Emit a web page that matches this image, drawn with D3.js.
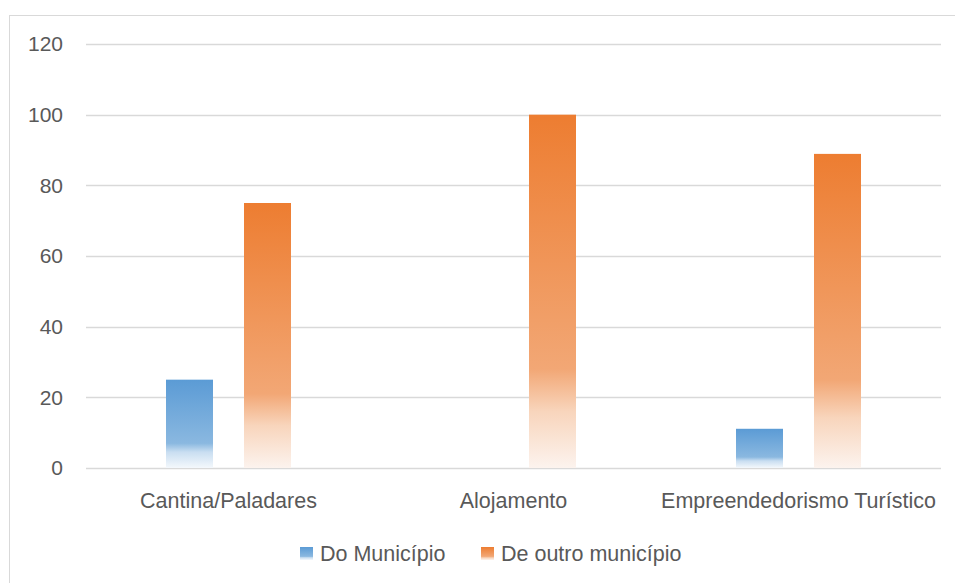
<!DOCTYPE html>
<html lang="pt">
<head>
<meta charset="UTF-8">
<title>Origem dos empreendedores</title>
<style>
  body { margin: 0; background: #fff; }
  svg text { font-family: "Liberation Sans", Arial, sans-serif; fill: #595959; }
</style>
</head>
<body>
<div id="chart"></div>
<script src="https://d3js.org/d3.v7.min.js"></script>
<script>
// data
const categories = ["Cantina/Paladares", "Alojamento", "Empreendedorismo Turístico"];
const seriesNames = ["Do Município", "De outro município"];
const doMunicipio = [25, 0, 11.1];
const deOutroMunicipio = [75, 100, 88.9];
const yTicks = [0, 20, 40, 60, 80, 100, 120];

const width = 955, height = 583;
const margin = { left: 86, right: 14, top: 44, bottom: 115 };

const svg = d3.select("#chart").append("svg")
  .attr("width", width)
  .attr("height", height);

// gradients like the Excel fill
const defs = svg.append("defs");
const gradStops = {
  blue: [[0, "#5B9BD5"], [0.72, "#8AB8E0"], [0.82, "#C9DEF1"], [1, "#F4F8FC"]],
  orange: [[0, "#ED7D31"], [0.72, "#F2A775"], [0.84, "#F8D5BC"], [1, "#FCF3EE"]]
};
Object.entries(gradStops).forEach(([name, stops]) => {
  const g = defs.append("linearGradient")
    .attr("id", "grad-" + name)
    .attr("x1", 0).attr("y1", 0).attr("x2", 0).attr("y2", 1);
  stops.forEach(s => g.append("stop").attr("offset", s[0]).attr("stop-color", s[1]));
});
const fills = ["url(#grad-blue)", "url(#grad-orange)"];

// chart frame
svg.append("rect")
  .attr("x", 9.5).attr("y", 15.5)
  .attr("width", 960).attr("height", 600)
  .attr("fill", "none")
  .attr("stroke", "#D9D9D9");

const x = d3.scaleBand()
  .domain(categories)
  .range([margin.left, width - margin.right]);

const y = d3.scaleLinear()
  .domain([0, 120])
  .range([height - margin.bottom, margin.top]);

// gridlines
svg.append("g")
  .selectAll("line")
  .data(yTicks)
  .join("line")
  .attr("x1", margin.left)
  .attr("x2", width - margin.right)
  .attr("y1", d => Math.round(y(d)) + 0.5)
  .attr("y2", d => Math.round(y(d)) + 0.5)
  .attr("stroke", "#D9D9D9")
  .attr("stroke-width", 1.5);

// y tick labels
svg.append("g")
  .selectAll("text")
  .data(yTicks)
  .join("text")
  .attr("x", 63)
  .attr("y", d => y(d))
  .attr("dy", "0.35em")
  .attr("text-anchor", "end")
  .attr("font-size", 21)
  .text(d => d);

// bars
const barW = 47;
const offsets = [-39, 39];
const series = [doMunicipio, deOutroMunicipio];

series.forEach((vals, si) => {
  svg.append("g")
    .selectAll("rect")
    .data(vals.map((v, i) => ({ cat: categories[i], v })))
    .join("rect")
    .filter(d => d.v > 0)
    .attr("x", d => x(d.cat) + x.bandwidth() / 2 + offsets[si] - barW / 2)
    .attr("y", d => y(d.v))
    .attr("width", barW)
    .attr("height", d => y(0) - y(d.v))
    .attr("fill", fills[si]);
});

// category labels
svg.append("g")
  .selectAll("text")
  .data(categories)
  .join("text")
  .attr("x", d => x(d) + x.bandwidth() / 2)
  .attr("y", 500)
  .attr("dy", "0.35em")
  .attr("text-anchor", "middle")
  .attr("font-size", 21.5)
  .text(d => d);

// legend
const legendX = [300, 481];
const legend = svg.append("g")
  .selectAll("g")
  .data(seriesNames)
  .join("g")
  .attr("transform", (d, i) => `translate(${legendX[i]},547)`);

legend.append("rect")
  .attr("width", 13)
  .attr("height", 13)
  .attr("fill", (d, i) => fills[i]);

legend.append("text")
  .attr("x", 20)
  .attr("y", 6.5)
  .attr("dy", "0.35em")
  .attr("font-size", 21.5)
  .text(d => d);
</script>
</body>
</html>
